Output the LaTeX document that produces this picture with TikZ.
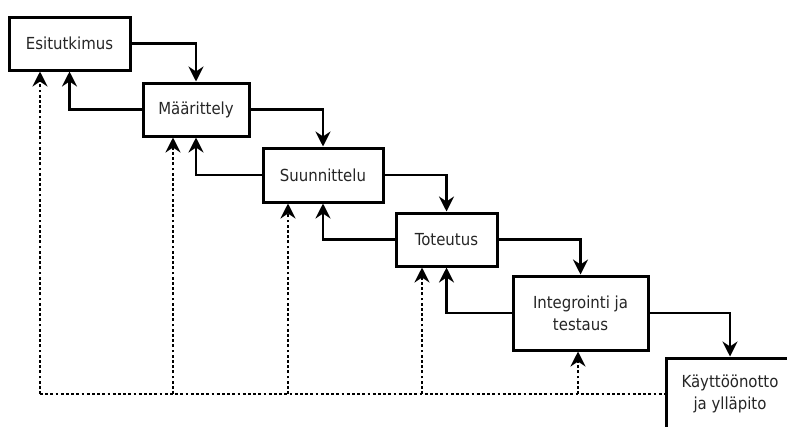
\documentclass[tikz,border=0pt]{standalone}
\usepackage{fontspec}
\setmainfont{DejaVu Sans Condensed}
\usetikzlibrary{arrows.meta}
\tikzset{
  phase/.style={draw=black, line width=3pt, fill=white, inner sep=0pt,
    text=black!85, align=center, font=\fontsize{16.6}{22}\selectfont},
  flow/.style={line width=2.6pt, -{Stealth[length=15pt,width=15pt,inset=5pt]}},
  feedback/.style={line width=2.8pt, dash pattern=on 2.8pt off 2.4pt,
    -{Stealth[length=15pt,width=15pt,inset=5pt]}},
  baseline/.style={line width=2.8pt, dash pattern=on 2.8pt off 2.4pt}
}
\begin{document}
\begin{tikzpicture}[x=1pt,y=-1pt]
\useasboundingbox (0,0) rectangle (787,426);
\clip (0,0) rectangle (787,426);
\fill[white] (0,0) rectangle (787,426);

% phases of the waterfall
\node[phase, minimum width=121pt, minimum height=53pt] (e) at (69.5,43.5) {Esitutkimus};
\node[phase, minimum width=106pt, minimum height=53pt] (m) at (196,109.5) {Määrittely};
\node[phase, minimum width=120pt, minimum height=54pt] (s) at (323,175) {Suunnittelu};
\node[phase, minimum width=101pt, minimum height=53pt] (t) at (446.5,239.5) {Toteutus};
\node[phase, minimum width=135pt, minimum height=74pt] (i) at (580.5,313) {Integrointi ja\\testaus};
\node[phase, minimum width=128pt, minimum height=72pt] (k) at (730,394) {Käyttöönotto\\ja ylläpito};

% forward steps
\draw[flow] (e.east) -| (m.north);
\draw[flow] (m.east) -| (s.north);
\draw[flow] (s.east) -| (t.north);
\draw[flow] (t.east) -| (i.north);
\draw[flow] (i.east) -| (k.north);

% returns to the previous phase
\draw[flow] (m.west) -| (e.south);
\draw[flow] (s.west) -| (m.south);
\draw[flow] (t.west) -| (s.south);
\draw[flow] (i.west) -| (t.south);

% dotted feedback from maintenance
\coordinate (d1) at (40,394);
\coordinate (d2) at (173,394);
\coordinate (d3) at (288,394);
\coordinate (d4) at (422,394);
\coordinate (d5) at (578,394);
\draw[baseline] (d1) -- (k.west);
\draw[feedback] (d1) -- (d1 |- e.south);
\draw[feedback] (d2) -- (d2 |- m.south);
\draw[feedback] (d3) -- (d3 |- s.south);
\draw[feedback] (d4) -- (d4 |- t.south);
\draw[feedback] (d5) -- (d5 |- i.south);
\end{tikzpicture}
\end{document}
